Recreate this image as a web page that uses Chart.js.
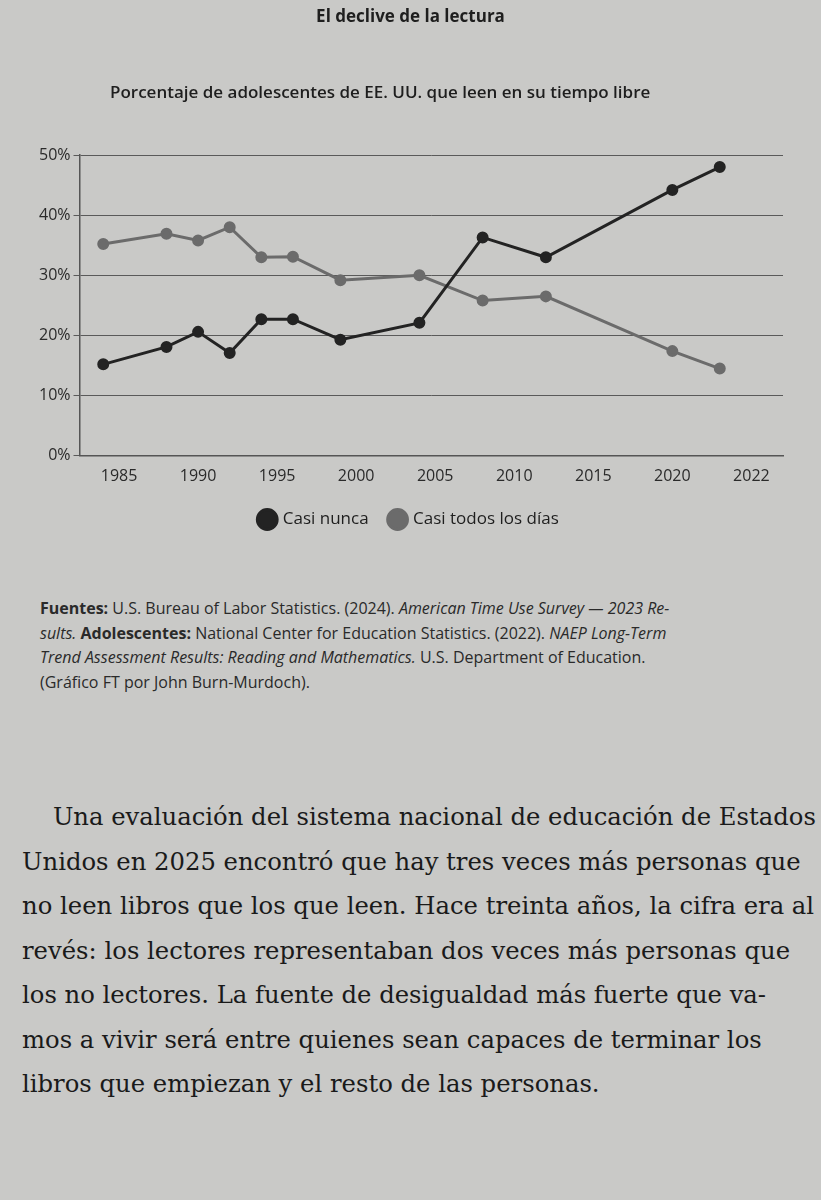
<!DOCTYPE html>
<html>
<head>
<meta charset="utf-8">
<script src="https://cdn.jsdelivr.net/npm/chart.js@4"></script>
<style>
  body { margin: 0; background: #c9c9c7; width: 821px; height: 1200px; overflow: hidden; font-family: 'Open Sans', sans-serif; color: #1e1e1e; }
  #wrap { position: absolute; left: 0; top: 0; width: 821px; height: 560px; }
  h1 { position: absolute; left: 0; width: 821px; top: 4px; margin: 0; text-align: center; font-size: 17px; font-weight: 700; }
  h2 { position: absolute; left: 110px; top: 80px; margin: 0; font-size: 17px; font-weight: 600; }
  #fuentes { position: absolute; left: 40px; top: 596px; width: 770px; font-size: 16px; line-height: 24.5px; color: #2a2a2a; }
  #texto { position: absolute; left: 22px; top: 795px; width: 800px; font-family: 'DejaVu Serif', serif; font-size: 24.3px; line-height: 44.5px; color: #1a1a1a; }
</style>
</head>
<body>
<div id="wrap"><canvas id="c" width="821" height="560"></canvas></div>
<h1>El declive de la lectura</h1>
<h2>Porcentaje de adolescentes de EE. UU. que leen en su tiempo libre</h2>
<div id="fuentes"><b>Fuentes:</b> U.S. Bureau of Labor Statistics. (2024). <i>American Time Use Survey — 2023 Re-<br>sults.</i> <b>Adolescentes:</b> National Center for Education Statistics. (2022). <i>NAEP Long-Term<br>Trend Assessment Results: Reading and Mathematics.</i> U.S. Department of Education.<br>(Gráfico FT por John Burn-Murdoch).</div>
<div id="texto">&nbsp;&nbsp;&nbsp;&nbsp;Una evaluación del sistema nacional de educación de Estados<br>Unidos en 2025 encontró que hay tres veces más personas que<br>no leen libros que los que leen. Hace treinta años, la cifra era al<br>revés: los lectores representaban dos veces más personas que<br>los no lectores. La fuente de desigualdad más fuerte que va-<br>mos a vivir será entre quienes sean capaces de terminar los<br>libros que empiezan y el resto de las personas.</div>
<script>
// Años de las encuestas
const years = [1984, 1988, 1990, 1992, 1994, 1996, 1999, 2004, 2008, 2012, 2020, 2023];
// Porcentajes
const casiNunca = [15.2, 18.1, 20.6, 17.1, 22.7, 22.7, 19.3, 22.1, 36.3, 33.0, 44.2, 48.0];
const casiTodos = [35.2, 36.9, 35.8, 38.0, 33.0, 33.1, 29.2, 30.0, 25.8, 26.5, 17.4, 14.5];
// Etiquetas del eje X tal como aparecen impresas
const tickYears = [1985, 1990, 1995, 2000, 2005, 2010, 2015, 2020, 2025];
const tickLabels = ['1985', '1990', '1995', '2000', '2005', '2010', '2015', '2020', '2022'];
const yTicks = [0, 10, 20, 30, 40, 50];

const toPoints = vals => vals.map((v, i) => ({ x: years[i], y: v }));

new Chart(document.getElementById('c'), {
    type: 'line',
    data: {
        datasets: [
            { label: 'Casi nunca', data: toPoints(casiNunca), borderColor: '#232323', backgroundColor: '#232323', borderWidth: 3, pointRadius: 4.5, tension: 0 },
            { label: 'Casi todos los días', data: toPoints(casiTodos), borderColor: '#6b6b6b', backgroundColor: '#6b6b6b', borderWidth: 3, pointRadius: 4.5, tension: 0 }
        ]
    },
    options: {
        responsive: false,
        animation: false,
        layout: { padding: { left: 36, right: 38, top: 155, bottom: 22 } },
        scales: {
            x: {
                type: 'linear', min: 1982.5, max: 2027,
                afterBuildTicks: axis => { axis.ticks = tickYears.map(v => ({ value: v })); },
                grid: { display: false, drawTicks: true },
                border: { color: '#555', width: 1.5 },
                ticks: {
                    color: '#2a2a2a', font: { family: 'Open Sans', size: 16 },
                    callback: (v) => tickLabels[tickYears.indexOf(v)]
                }
            },
            y: {
                min: 0, max: 50,
                afterBuildTicks: axis => { axis.ticks = yTicks.map(v => ({ value: v })); },
                grid: { color: '#5a5a5a', lineWidth: 1, drawTicks: true, tickLength: 6 },
                border: { color: '#555', width: 1.5 },
                ticks: { color: '#2a2a2a', font: { family: 'Open Sans', size: 16 }, callback: v => v + '%' }
            }
        },
        plugins: {
            legend: {
                position: 'bottom',
                labels: { usePointStyle: true, pointStyle: 'circle', boxWidth: 14, boxHeight: 14, padding: 22, color: '#1e1e1e', font: { family: 'Open Sans', size: 17 } }
            },
            tooltip: { enabled: false }
        }
    }
});
</script>
</body>
</html>
